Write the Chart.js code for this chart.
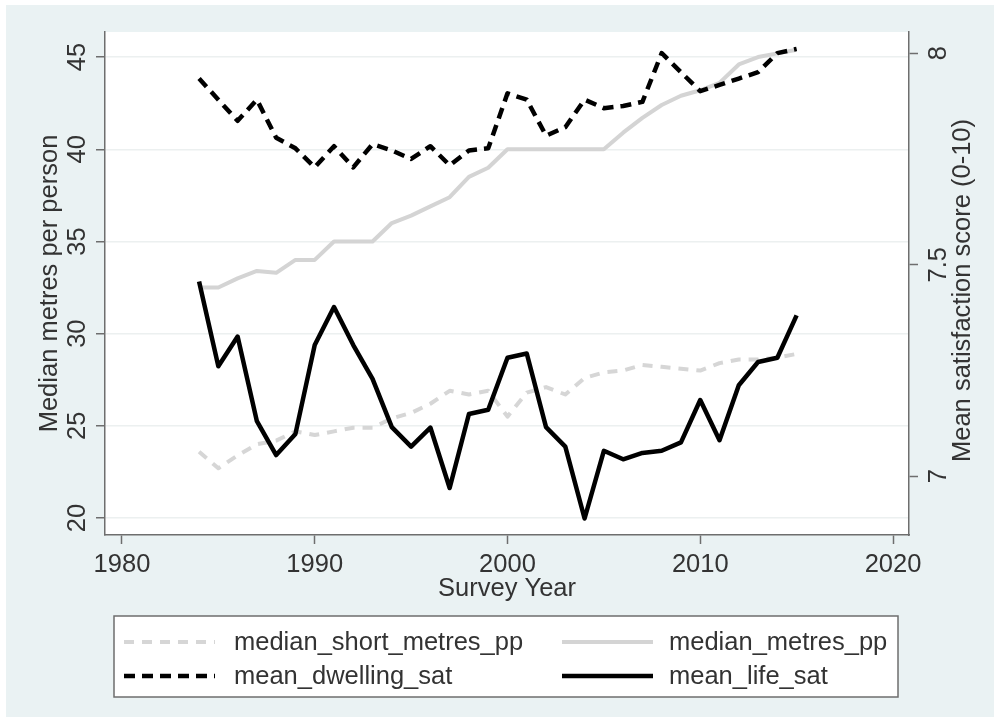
<!DOCTYPE html>
<html>
<head>
<meta charset="utf-8">
<script src="https://cdn.jsdelivr.net/npm/chart.js@4.4.1/dist/chart.umd.min.js"></script>
<style>
  html, body { margin: 0; padding: 0; background: #ffffff; }
  #wrap { width: 994px; height: 717px; position: relative; }
</style>
</head>
<body>
<div id="wrap"><canvas id="c" width="994" height="717"></canvas></div>
<script>
// Survey years and series
const years = [1984,1985,1986,1987,1988,1989,1990,1991,1992,1993,1994,1995,1996,1997,1998,1999,
               2000,2001,2002,2003,2004,2005,2006,2007,2008,2009,2010,2011,2012,2013,2014,2015];

// Left axis: median square metres per person
const medianShortMetresPP = [23.6,22.7,23.4,24.0,24.2,24.7,24.5,24.7,24.9,24.9,25.4,25.7,26.2,26.9,26.7,26.9,
                             25.5,26.8,27.1,26.7,27.6,27.9,28.0,28.3,28.2,28.1,28.0,28.4,28.6,28.6,28.7,28.9];
const medianMetresPP      = [32.5,32.5,33.0,33.4,33.3,34.0,34.0,35.0,35.0,35.0,36.0,36.4,36.9,37.4,38.5,39.0,
                             40.0,40.0,40.0,40.0,40.0,40.0,40.9,41.7,42.4,42.9,43.2,43.6,44.6,45.0,45.2,45.4];

// Right axis: mean satisfaction scores (0-10)
const meanDwellingSat = [7.94,7.89,7.84,7.89,7.80,7.775,7.73,7.78,7.73,7.785,7.77,7.75,7.78,7.735,7.77,7.775,
                         7.905,7.89,7.805,7.825,7.89,7.87,7.875,7.885,8.00,7.955,7.91,7.925,7.94,7.955,8.00,8.01];
const meanLifeSat     = [7.46,7.26,7.33,7.13,7.05,7.10,7.31,7.40,7.31,7.23,7.116,7.07,7.115,6.972,7.147,7.157,
                         7.28,7.29,7.116,7.07,6.90,7.06,7.04,7.055,7.06,7.08,7.18,7.085,7.215,7.27,7.28,7.38];

// Axis ticks and ranges
const xTicks = [1980, 1990, 2000, 2010, 2020];
const leftTicks = [20, 25, 30, 35, 40, 45];
const rightTicks = [7, 7.5, 8];
const rightTickLabels = ['7', '7.5', '8'];
const xRange = [1979.12, 2020.83];
const leftRange = [19.08, 46.36];
const rightRange = [6.861, 8.05];

const FONT = "'Liberation Sans', Arial, Helvetica, sans-serif";
const FS = 25.5;
const TEXT = '#333333';
const AXIS = '#6e6e6e';

Chart.defaults.font.family = FONT;
Chart.defaults.font.size = FS;
Chart.defaults.color = TEXT;

const pts = arr => years.map((y, i) => ({ x: y, y: arr[i] }));

const datasets = [
  { label: 'median_short_metres_pp', data: pts(medianShortMetresPP), yAxisID: 'yL',
    borderColor: '#d6d6d6', borderWidth: 4, borderDash: [10, 8], order: 3 },
  { label: 'median_metres_pp', data: pts(medianMetresPP), yAxisID: 'yL',
    borderColor: '#d4d4d4', borderWidth: 4, order: 2 },
  { label: 'mean_dwelling_sat', data: pts(meanDwellingSat), yAxisID: 'yR',
    borderColor: '#000000', borderWidth: 4.5, borderDash: [11, 7], order: 1 },
  { label: 'mean_life_sat', data: pts(meanLifeSat), yAxisID: 'yR',
    borderColor: '#000000', borderWidth: 4.5, order: 0 }
];
datasets.forEach(d => { d.pointRadius = 0; d.tension = 0; d.fill = false; d.borderJoinStyle = 'round'; });

// Background panels: bluish outer region, white plot region
const framePlugin = {
  id: 'frame',
  beforeDraw(chart) {
    const { ctx, chartArea: a } = chart;
    ctx.save();
    ctx.fillStyle = '#ffffff';
    ctx.fillRect(0, 0, chart.width, chart.height);
    ctx.fillStyle = '#eaf2f3';
    ctx.fillRect(6, 5, chart.width - 6, chart.height - 5);
    ctx.fillStyle = '#ffffff';
    ctx.fillRect(a.left, a.top, a.right - a.left, a.bottom - a.top);
    ctx.restore();
  }
};

// Rotated y tick labels, right axis title and the legend
const annotatePlugin = {
  id: 'annotate',
  afterDraw(chart) {
    const { ctx, chartArea: a } = chart;
    const yL = chart.scales.yL, yR = chart.scales.yR;
    const rot = (text, x, y) => {
      ctx.save(); ctx.translate(x, y); ctx.rotate(-Math.PI / 2);
      ctx.fillText(text, 0, 0); ctx.restore();
    };
    ctx.save();
    ctx.font = FS + 'px ' + FONT;
    ctx.fillStyle = TEXT;
    ctx.textAlign = 'center';
    ctx.textBaseline = 'middle';
    leftTicks.forEach(v => rot(String(v), a.left - 27, yL.getPixelForValue(v)));
    rightTicks.forEach((v, i) => rot(rightTickLabels[i], a.right + 29.5, yR.getPixelForValue(v)));
    rot('Mean satisfaction score (0-10)', a.right + 54, (a.top + a.bottom) / 2 + 7);

    // legend
    const bx = 114, by = 616, bw = 784, bh = 81;
    ctx.fillStyle = '#ffffff';
    ctx.fillRect(bx, by, bw, bh);
    ctx.strokeStyle = AXIS;
    ctx.lineWidth = 1.5;
    ctx.strokeRect(bx, by, bw, bh);
    const cols = [124, 562], textCols = [234, 669], rows = [643, 677];
    chart.data.datasets.forEach((ds, i) => {
      const c = i % 2, r = Math.floor(i / 2);
      ctx.save();
      ctx.strokeStyle = ds.borderColor;
      ctx.lineWidth = ds.borderWidth;
      ctx.setLineDash(ds.borderDash || []);
      ctx.beginPath();
      ctx.moveTo(cols[c], rows[r] - 1);
      ctx.lineTo(cols[c] + 91, rows[r] - 1);
      ctx.stroke();
      ctx.restore();
      ctx.fillStyle = TEXT;
      ctx.textAlign = 'left';
      ctx.fillText(ds.label, textCols[c], rows[r]);
    });
    ctx.restore();
  }
};

new Chart(document.getElementById('c'), {
  type: 'line',
  data: { datasets },
  options: {
    responsive: false,
    animation: false,
    devicePixelRatio: 1,
    layout: { padding: { top: 32, left: 0, right: 0, bottom: 0 } },
    plugins: { legend: { display: false }, tooltip: { enabled: false } },
    scales: {
      x: {
        type: 'linear', min: xRange[0], max: xRange[1],
        afterBuildTicks: s => { s.ticks = xTicks.map(v => ({ value: v })); },
        afterFit: s => { s.height = 182; },
        ticks: { autoSkip: false, maxRotation: 0, minRotation: 0, padding: 5.7, color: TEXT,
                 font: { size: FS }, callback: v => String(v) },
        grid: { drawOnChartArea: false, tickLength: 9, tickColor: AXIS, tickWidth: 1.5 },
        border: { display: true, color: AXIS, width: 1.5 },
        title: { display: true, text: 'Survey Year', color: TEXT, font: { size: FS },
                 padding: { top: 0, bottom: 112.7 } }
      },
      yL: {
        type: 'linear', position: 'left', min: leftRange[0], max: leftRange[1],
        afterBuildTicks: s => { s.ticks = leftTicks.map(v => ({ value: v })); },
        afterFit: s => { s.width = 105; },
        ticks: { display: false },
        grid: { drawOnChartArea: true, color: '#ecf0f0', lineWidth: 1.5,
                tickLength: 9, tickColor: AXIS, tickWidth: 1.5 },
        border: { display: true, color: AXIS, width: 1.5 },
        title: { display: true, text: 'Median metres per person', color: TEXT, font: { size: FS },
                 padding: { top: 34.7, bottom: 0 } }
      },
      yR: {
        type: 'linear', position: 'right', min: rightRange[0], max: rightRange[1],
        afterBuildTicks: s => { s.ticks = rightTicks.map(v => ({ value: v })); },
        afterFit: s => { s.width = 85; },
        ticks: { display: false },
        grid: { drawOnChartArea: false, tickLength: 9, tickColor: AXIS, tickWidth: 1.5 },
        border: { display: true, color: AXIS, width: 1.5 }
      }
    }
  },
  plugins: [framePlugin, annotatePlugin]
});
</script>
</body>
</html>
